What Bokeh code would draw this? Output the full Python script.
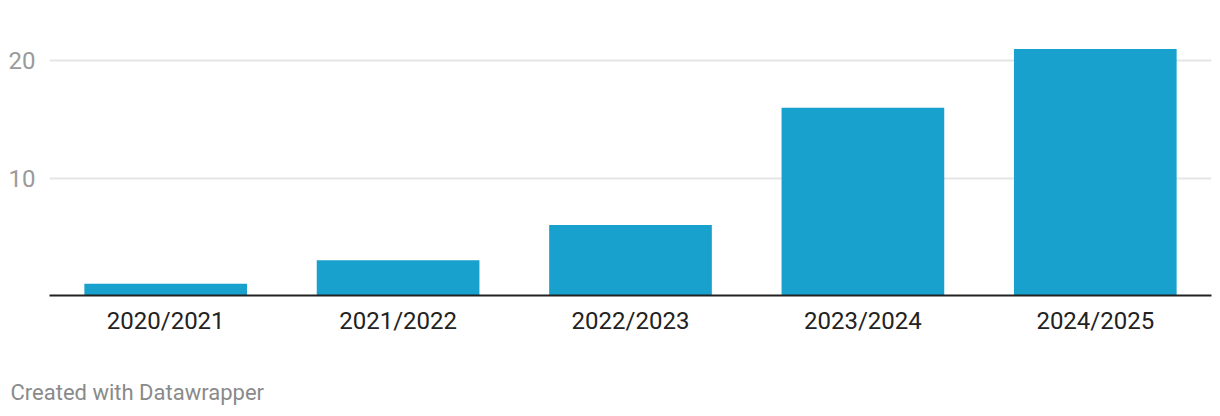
from bokeh.plotting import figure
from bokeh.models import FixedTicker, Range1d, Title
from bokeh.embed import file_html
from bokeh.resources import INLINE

seasons = ["2020/2021", "2021/2022", "2022/2023", "2023/2024", "2024/2025"]
values = [1, 3, 6, 16, 21]
y_ticks = [10, 20]

p = figure(x_range=seasons, width=1212, height=408, output_backend="svg",
           toolbar_location=None, min_border_left=49, min_border_right=1,
           min_border_top=25, min_border_bottom=0)
p.y_range = Range1d(0, 23)
p.frame_height = 270
p.frame_width = 1162

p.vbar(x=seasons, top=values, width=0.7, color="#18a1cd", line_color=None)

p.outline_line_color = None
p.background_fill_color = "white"
p.border_fill_color = "white"

p.xgrid.grid_line_color = None
p.ygrid.grid_line_color = "#e5e5e5"
p.ygrid.grid_line_width = 2
p.ygrid.ticker = FixedTicker(ticks=y_ticks)

p.yaxis.ticker = FixedTicker(ticks=y_ticks)
p.yaxis.axis_line_color = None
p.yaxis.major_tick_line_color = None
p.yaxis.minor_tick_line_color = None
p.yaxis.major_label_standoff = 8
p.yaxis.major_label_text_font = "Roboto"
p.yaxis.major_label_text_font_size = "24px"
p.yaxis.major_label_text_color = "#9a9a9a"

p.xaxis.axis_line_color = "#222222"
p.xaxis.axis_line_width = 2
p.xaxis.major_tick_line_color = None
p.xaxis.minor_tick_line_color = None
p.xaxis.major_label_standoff = 5
p.xaxis.major_label_text_font = "Roboto"
p.xaxis.major_label_text_font_size = "24px"
p.xaxis.major_label_text_color = "#222222"

footer = Title(text="Created with Datawrapper", align="left", offset=-39,
               text_font="Roboto", text_font_size="22px", text_font_style="normal",
               text_color="#8a8a8a", standoff=81)
p.add_layout(footer, "below")

open("out.html", "w").write(file_html(p, INLINE))
